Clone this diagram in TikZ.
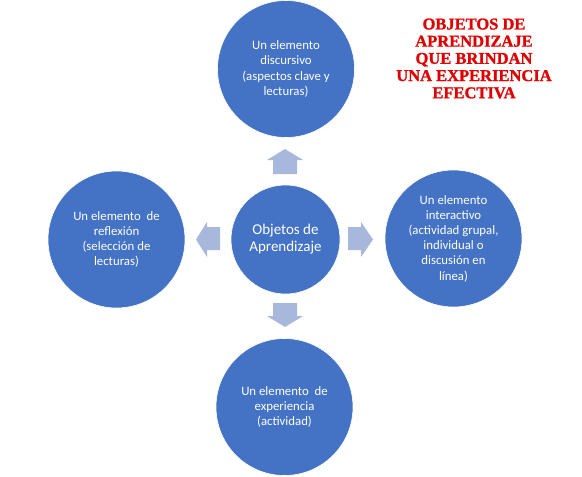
\documentclass[tikz,border=0pt]{standalone}
\usepackage{fontspec}
\setmainfont{Carlito}
\newfontfamily\titlefont[FakeBold=1.2]{Liberation Serif Bold}
\definecolor{circblue}{HTML}{4472C4}
\definecolor{arrblue}{HTML}{A8B8DC}
\definecolor{titlered}{HTML}{E00000}
\begin{document}
\begin{tikzpicture}[x=1pt,y=-1pt,
  outer/.style={circle,fill=circblue,draw=white,line width=0.6pt,minimum size=137pt,inner sep=0pt,
    text=white,align=center,font=\fontsize{12.8}{15.2}\selectfont},
  inner/.style={circle,fill=circblue,draw=white,line width=0.6pt,minimum size=109pt,inner sep=0pt,
    text=white,align=center,font=\fontsize{15}{17}\selectfont},
  blockarrow/.style={fill=arrblue,draw=none}]
\useasboundingbox (0,0) rectangle (582,477);
\fill[white] (0,0) rectangle (582,477);

\node[inner] (c) at (285.5,239.5) {Objetos de\\Aprendizaje};
\node[outer] (t) at (286,69) {Un elemento\\discursivo\\(aspectos clave y\\lecturas)};
\node[outer] (l) at (116.5,239.5) {Un elemento \ de\\reflexión\\(selección de\\lecturas)};
\node[outer] (r) at (453.5,238.5) {Un elemento\\interactivo\\(actividad grupal,\\individual o\\discusión en\\línea)};
\node[outer] (b) at (284.5,407) {Un elemento \ de\\experiencia\\(actividad)};

% block arrows
\fill[blockarrow] (273,174) -- (273,160) -- (267,160) -- (285,149) -- (303,160) -- (297,160) -- (297,174) -- cycle;
\fill[blockarrow] (273,303) -- (273,316) -- (267,316) -- (285,327) -- (303,316) -- (297,316) -- (297,303) -- cycle;
\fill[blockarrow] (220,227) -- (207,227) -- (207,222) -- (196,239.5) -- (207,257) -- (207,250) -- (220,250) -- cycle;
\fill[blockarrow] (348,227) -- (361,227) -- (361,222) -- (373,239.5) -- (361,257) -- (361,250) -- (348,250) -- cycle;

\node[text=titlered,align=center,font=\titlefont\fontsize{16.5}{17.2}\selectfont,inner sep=0pt] (title) at (474,58.5)
  {OBJETOS DE\\APRENDIZAJE\\QUE BRINDAN\\UNA EXPERIENCIA\\EFECTIVA};
\end{tikzpicture}
\end{document}
